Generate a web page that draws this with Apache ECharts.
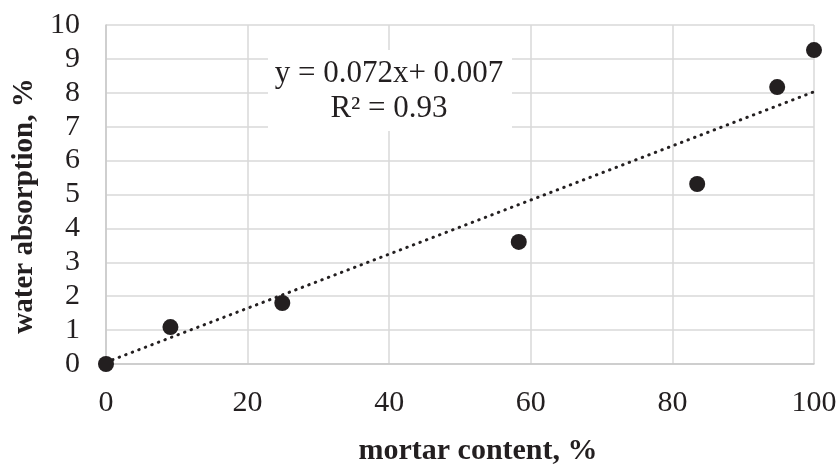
<!DOCTYPE html>
<html>
<head>
<meta charset="utf-8">
<script src="https://cdn.jsdelivr.net/npm/echarts@6/dist/echarts.min.js"></script>
<style>
html,body{margin:0;padding:0;background:#fff;}
#chart{width:839px;height:465px;}
</style>
</head>
<body>
<div id="chart"></div>
<script>
const mortarContent = [0, 9.1, 24.9, 58.3, 83.5, 94.8, 100];
const waterAbsorption = [0.0, 1.09, 1.8, 3.6, 5.31, 8.17, 9.26];
const trendX = [0, 100];
const trendY = [0.05, 8.03];
const equationLines = ['y = 0.072x+ 0.007', 'R² = 0.93'];
const xTitle = 'mortar content, %';
const yTitle = 'water absorption, %';

const serif = '"Liberation Serif", "Times New Roman", serif';
const chart = echarts.init(document.getElementById('chart'));
chart.setOption({
  backgroundColor: '#ffffff',
  animation: false,
  grid: {left: 106, right: 25, top: 25, bottom: 101, containLabel: false, outerBoundsMode: 'none'},
  xAxis: {
    type: 'value', min: 0, max: 100, interval: 20,
    name: xTitle, nameLocation: 'middle', nameGap: 72,
    nameTextStyle: {fontFamily: serif, fontWeight: 'bold', fontSize: 30, color: '#231f20', padding: [0, 0, 0, 36]},
    axisLine: {show: true, lineStyle: {color: '#c8c8c8', width: 1.5}},
    axisTick: {show: false},
    axisLabel: {fontFamily: serif, fontSize: 30, color: '#231f20', margin: 24},
    splitLine: {show: true, lineStyle: {color: '#d9d9d9', width: 1.5}}
  },
  yAxis: {
    type: 'value', min: 0, max: 10, interval: 1,
    name: yTitle, nameLocation: 'middle', nameGap: 64,
    nameTextStyle: {fontFamily: serif, fontWeight: 'bold', fontSize: 29, color: '#231f20', padding: [0, 23, 0, 0]},
    axisLine: {show: true, lineStyle: {color: '#c8c8c8', width: 1.5}},
    axisTick: {show: false},
    axisLabel: {fontFamily: serif, fontSize: 30, color: '#231f20', margin: 26},
    splitLine: {show: true, lineStyle: {color: '#d9d9d9', width: 1.5}}
  },
  graphic: [
    {type: 'rect', z: 1, shape: {x: 268, y: 50, width: 244, height: 81}, style: {fill: '#ffffff'}},
    {type: 'text', z: 3, x: 389, y: 74, style: {text: equationLines[0], font: '31px ' + serif, fill: '#231f20', align: 'center', verticalAlign: 'middle'}},
    {type: 'text', z: 3, x: 389, y: 109, style: {text: equationLines[1], font: '31px ' + serif, fill: '#231f20', align: 'center', verticalAlign: 'middle'}}
  ],
  series: [
    {
      type: 'line', z: 2,
      data: trendX.map((x, i) => [x, trendY[i]]),
      symbol: 'none',
      lineStyle: {color: '#231f20', width: 3, type: [0.5, 6.5], cap: 'round'}
    },
    {
      type: 'scatter', z: 4,
      data: mortarContent.map((x, i) => [x, waterAbsorption[i]]),
      symbol: 'circle', symbolSize: 16,
      itemStyle: {color: '#231f20', opacity: 1}
    }
  ]
});
</script>
</body>
</html>
